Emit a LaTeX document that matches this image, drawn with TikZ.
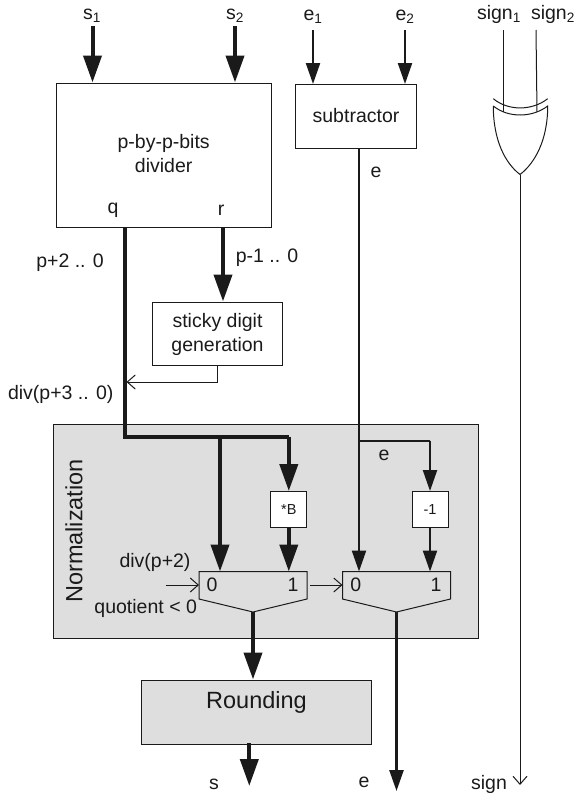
\documentclass[tikz,border=0pt]{standalone}
\usepackage{fontspec}
\setmainfont{Liberation Sans}
\usetikzlibrary{arrows.meta}

\definecolor{ink}{HTML}{1A1A1A}
\definecolor{panel}{HTML}{DEDEDE}

\tikzset{
  label/.style={text=ink, inner sep=0pt, font=\fontsize{19.5}{23}\selectfont},
  biglabel/.style={text=ink, inner sep=0pt, font=\fontsize{23.5}{28}\selectfont},
  unit/.style={draw=ink, line width=1pt, inner sep=0pt, align=center},
  tinyunit/.style={unit, fill=white, minimum width=36pt, minimum height=35.5pt, text=ink, font=\fontsize{14.5}{17}\selectfont},
  thinwire/.style={draw=ink, line width=1pt},
  thickwire/.style={draw=ink, line width=4pt},
  midwire/.style={draw=ink, line width=2.2pt},
  thickbus/.style={thickwire, -{Triangle[width=18pt,length=27pt]}},
  midbus/.style={midwire, -{Triangle[width=14pt,length=21pt]}},
  thinbus/.style={thinwire, -{Straight Barb[width=14pt,length=8pt]}}
}

\newcommand{\muxbox}[2]{
  \coordinate (#1) at (#2,612);
  \coordinate (#1top) at (#2,571.5);
  \coordinate (#1in) at (#2-54,585);
  \coordinate (#1out) at (#2+54,585);
  \draw[thinwire, line join=miter] (#2-54,571.5) -- (#2+54,571.5) -- (#2+54,599) -- (#1) -- (#2-54,599) -- cycle;
}

\begin{document}
\begin{tikzpicture}[x=1pt,y=-1pt]
  \useasboundingbox (0,0) rectangle (577,795);

  \def\xa{92.5}
  \def\xb{235}
  \def\xc{313}
  \def\xd{405}
  \def\xe{124.5}
  \def\xf{223}
  \def\xg{359}

  %shaded blocks
  \node[unit, fill=panel, minimum width=425pt, minimum height=214pt] (norm) at (265.5,531) {};
  \node[unit, fill=panel, minimum width=230pt, minimum height=64pt] (rounding) at (256,712) {};
  \node[biglabel] (roundlabel) at (256.5,702) {Rounding};
  \node[biglabel, rotate=90] (normlabel) at (74,531) {Normalization};

  %upper units
  \node[unit, minimum width=214.5pt, minimum height=144pt] (divider) at (164,155) {};
  \node[unit, minimum width=121pt, minimum height=64pt] (subtractor) at (355.5,116.5) {};
  \node[unit, minimum width=129.5pt, minimum height=63pt] (sticky) at (217.5,333.5) {};
  \node[label] (dividertext) at (163.7,143) {p-by-p-bits};
  \node[label] (dividertextb) at (163.7,166) {divider};
  \node[label] (subtext) at (356,116) {subtractor};
  \node[label] (stickytext) at (217.5,322) {sticky digit};
  \node[label] (stickytextb) at (217.5,346) {generation};
  \node[label] (qlabel) at (113,210) {q};
  \node[label] (rlabel) at (221,210) {r};

  %inputs
  \node[label] (sa) at (92,16) {s\textsubscript{1}};
  \node[label] (sb) at (235,16) {s\textsubscript{2}};
  \node[label] (ea) at (313,17) {e\textsubscript{1}};
  \node[label] (eb) at (405,17) {e\textsubscript{2}};
  \node[label] (signa) at (499,14) {sign\textsubscript{1}};
  \node[label] (signb) at (553,14) {sign\textsubscript{2}};
  \coordinate (sain) at (\xa,26);
  \coordinate (sbin) at (\xb,26);
  \coordinate (eain) at (\xc,30);
  \coordinate (ebin) at (\xd,30);
  \draw[thickbus] (sain) -- (sain |- divider.north);
  \draw[thickbus] (sbin) -- (sbin |- divider.north);
  \draw[midbus] (eain) -- (eain |- subtractor.north);
  \draw[midbus] (ebin) -- (ebin |- subtractor.north);

  %multiplexers and small units
  \muxbox{muxa}{253}
  \muxbox{muxb}{396.5}
  \node[tinyunit] (timesb) at (288.8,509.3) {*B};
  \node[tinyunit] (minusone) at (430,509.3) {-1};
  \node[label] (muxazero) at (212,585) {0};
  \node[label] (muxaone) at (293,585) {1};
  \node[label] (muxbzero) at (355.7,585) {0};
  \node[label] (muxbone) at (436,585) {1};

  %quotient
  \coordinate (qout) at (\xe,227);
  \coordinate (qturn) at (\xe,437);
  \coordinate (qsplit) at (220,437);
  \coordinate (qend) at (288.8,437);
  \coordinate (rout) at (\xf,227);
  \draw[thickwire, line join=miter] (qout) -- (qturn) -- (qend);
  \draw[thickbus] (qend) -- (timesb.north);
  \draw[thickbus] (qsplit) -- (qsplit |- muxatop);
  \draw[thickbus] (timesb.south) -- (timesb.south |- muxatop);
  \draw[thickbus] (rout) -- (rout |- sticky.north);

  %sticky feedback
  \coordinate (divin) at (126.5,382);
  \draw[thinbus] (sticky.south) |- (divin);

  %exponent
  \coordinate (eout) at (\xg,148.5);
  \coordinate (esplit) at (\xg,440.7);
  \coordinate (eturn) at (430,440.7);
  \draw[midbus] (eout) -- (eout |- muxbtop);
  \draw[midwire, line join=miter] (esplit) -- (eturn);
  \draw[midbus] (eturn) -- (minusone.north);
  \draw[midbus] (minusone.south) -- (minusone.south |- muxbtop);

  %mux control
  \coordinate (divctl) at (165.7,585);
  \coordinate (muxaoutb) at (310,585);
  \draw[thinbus] (divctl) -- (muxain);
  \draw[thinbus] (muxaoutb) -- (muxbin);

  %outputs
  \coordinate (sout) at (249.3,743);
  \coordinate (send) at (249.3,786);
  \coordinate (eend) at (396.5,791);
  \coordinate (signend) at (520,785);
  \draw[thickbus] (muxa) -- (muxa |- rounding.north);
  \draw[thickbus] (sout) -- (send);
  \draw[midwire, line width=2.6pt, -{Triangle[width=14pt,length=21pt]}] (muxb) -- (eend);

  %xor gate
  \coordinate (xorl) at (493.3,106);
  \coordinate (xorr) at (547.7,106);
  \coordinate (xorout) at (520,174.5);
  \coordinate (signaend) at (503.7,112);
  \coordinate (signbend) at (537,112);
  \coordinate (signastart) at (503.7,30);
  \coordinate (signbstart) at (536,30);
  \draw[thinwire] (493.3,98.7) .. controls (508,111) and (532,111) .. (547.7,98.7);
  \draw[thinwire] (xorl) .. controls (508,118) and (532,118) .. (xorr)
    .. controls (547.7,140) and (535,163) .. (xorout)
    .. controls (505,163) and (493.3,140) .. (xorl);
  \draw[thinwire] (signastart) -- (signaend);
  \draw[thinwire] (signbstart) -- (signbend);
  \draw[thinbus] (xorout) -- (signend);

  %labels
  \node[label] (elabela) at (376,172) {e};
  \node[label] (elabelb) at (384,455) {e};
  \node[label] (qbits) at (70,263) {p+2 .. 0};
  \node[label] (rbits) at (267,258) {p-1 .. 0};
  \node[label] (divbits) at (60.7,394) {div(p+3 .. 0)};
  \node[label] (divsel) at (155,562) {div(p+2)};
  \node[label] (quotient) at (145.7,608) {quotient < 0};
  \node[label] (soutlabel) at (214,784) {s};
  \node[label] (eoutlabel) at (364,782) {e};
  \node[label] (signout) at (489,784) {sign};

\end{tikzpicture}
\end{document}
